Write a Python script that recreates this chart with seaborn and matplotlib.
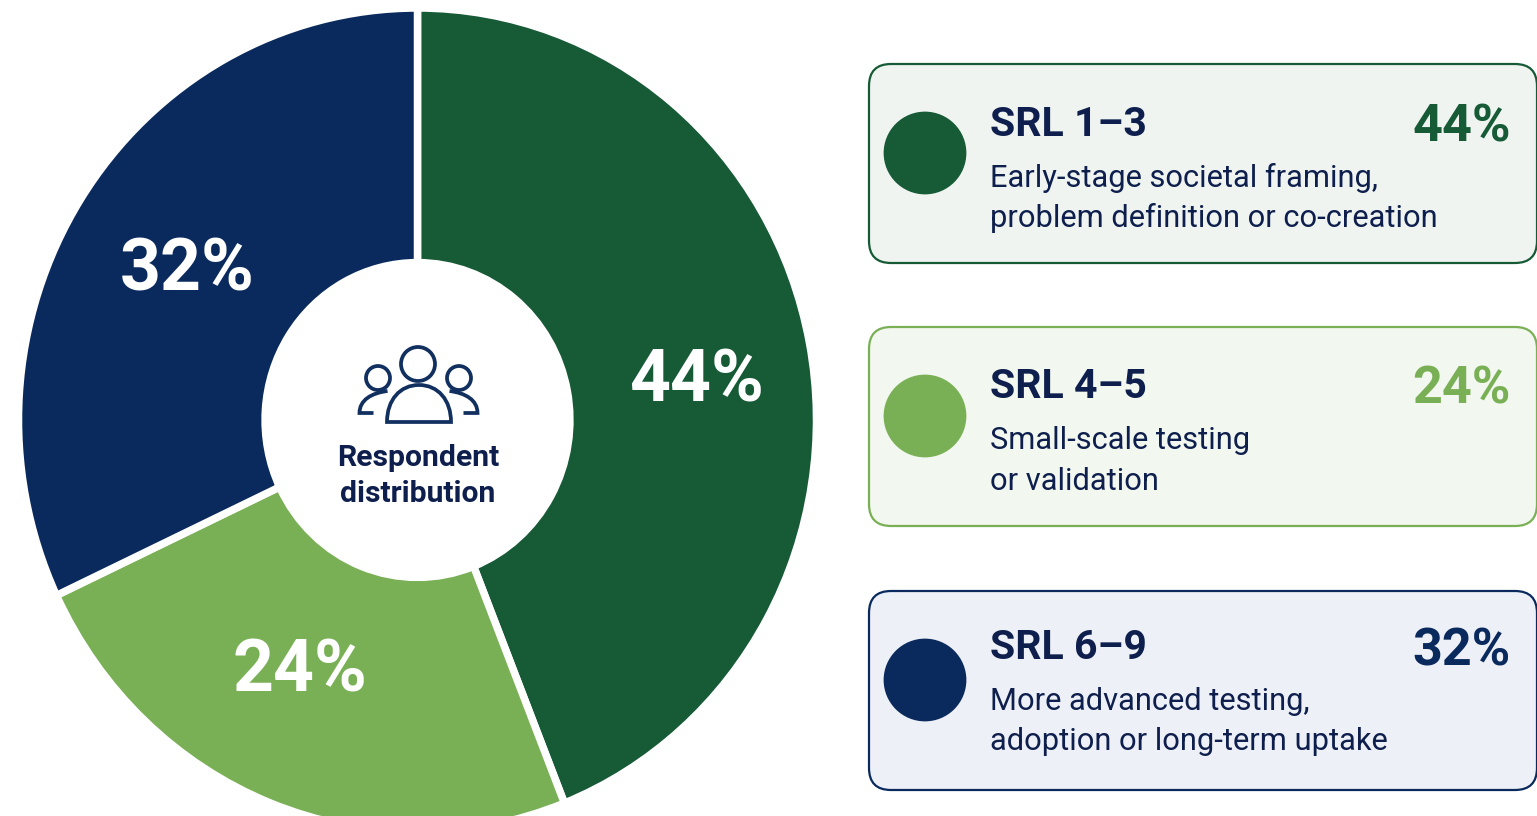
import matplotlib.pyplot as plt
import pandas as pd
import seaborn as sns
from matplotlib.patches import Circle, FancyBboxPatch, PathPatch
from matplotlib.path import Path

levels = ['SRL 1–3', 'SRL 4–5', 'SRL 6–9']
shares = [44, 24, 32]
share_labels = ['44%', '24%', '32%']
line_one = ['Early-stage societal framing,', 'Small-scale testing', 'More advanced testing,']
line_two = ['problem definition or co-creation', 'or validation', 'adoption or long-term uptake']
colors = ['#165A36', '#7AB055', '#0A2A5E']
card_fills = ['#EFF4F1', '#F2F7EF', '#EDF0F6']
center_lines = ['Respondent', 'distribution']

INK = '#0E1F4D'
W, H = 1537, 816

sns.set_theme(style='white')
plt.rcParams['font.family'] = ['Roboto', 'DejaVu Sans']

fig = plt.figure(figsize=(W / 100, H / 100), dpi=100, facecolor='white')

# Donut is slightly taller than wide and runs off the bottom edge
ax_pie = fig.add_axes([18.5 / W, -16 / H, 798 / W, 824 / H])
ax_pie.pie(shares, colors=colors, startangle=90, counterclock=False, radius=1,
           wedgeprops={'width': 0.618, 'edgecolor': 'white', 'linewidth': 5.4})
ax_pie.set_aspect('auto')
ax_pie.set_xlim(-1, 1)
ax_pie.set_ylim(-1, 1)

# Overlay in pixel coordinates for the cards, labels and icon
ax = fig.add_axes([0, 0, 1, 1], facecolor='none')

card_tops = [64, 327, 591]
head_base = [136, 398, 659]
pct_base = [141, 403, 665]
one_base = [187, 449, 710]
two_base = [227, 490, 750]
for i, level in enumerate(levels):
    top = card_tops[i]
    ax.add_patch(FancyBboxPatch((869 + 22, top + 22), 668 - 44, 199 - 44,
                                boxstyle='round,pad=22,rounding_size=22',
                                facecolor=card_fills[i], edgecolor=colors[i], linewidth=1.6))
    ax.text(990, head_base[i], level, fontsize=29.5, fontweight='bold', color=INK, va='baseline', ha='left')
    ax.text(1511, pct_base[i], share_labels[i], fontsize=37.5, fontweight='bold', color=colors[i],
            va='baseline', ha='right')
    ax.text(990, one_base[i], line_one[i], fontsize=22.2, color=INK, va='baseline', ha='left')
    ax.text(990, two_base[i], line_two[i], fontsize=22.2, color=INK, va='baseline', ha='left')

dots = pd.DataFrame({'x': [925, 925, 925], 'y': [t + 89 for t in card_tops], 'level': levels})
sns.scatterplot(data=dots, x='x', y='y', hue='level', palette=colors, s=3550, linewidth=0,
                legend=False, ax=ax, zorder=3)

# Share labels on the donut
label_spots = [(696, 382), (300, 672), (187, 271)]
for (x, y), text in zip(label_spots, share_labels):
    ax.text(x, y, text, fontsize=51.5, fontweight='bold', color='white', ha='center', va='center')

# People icon in the hole
icon = {'fill': False, 'edgecolor': '#12305F', 'linewidth': 2.7, 'zorder': 4}
ax.add_patch(Circle((418, 364), 17, **icon))
ax.add_patch(Circle((378, 378), 12, **icon))
ax.add_patch(Circle((459, 378), 12, **icon))
dome = Path([(387, 422), (387, 400), (400, 385), (419, 385), (438, 385), (451, 400), (451, 422), (387, 422)],
            [Path.MOVETO, Path.CURVE4, Path.CURVE4, Path.CURVE4, Path.CURVE4, Path.CURVE4, Path.CURVE4, Path.CLOSEPOLY])
ax.add_patch(PathPatch(dome, **icon))
for side in (1, -1):
    cx = 418.5
    p = lambda x: cx - side * x
    arm = Path([(p(31), 391), (p(47), 393), (p(59), 400), (p(59), 413), (p(45), 413)],
               [Path.MOVETO, Path.CURVE4, Path.CURVE4, Path.CURVE4, Path.LINETO])
    ax.add_patch(PathPatch(arm, **icon))

ax.text(418, 458, center_lines[0], fontsize=21.7, fontweight='bold', color=INK, ha='center', va='center')
ax.text(418, 494, center_lines[1], fontsize=21.7, fontweight='bold', color=INK, ha='center', va='center')

ax.set_xlim(0, W)
ax.set_ylim(H, 0)
ax.set_xlabel('')
ax.set_ylabel('')
ax.set_xticks([])
ax.set_yticks([])
sns.despine(ax=ax, left=True, bottom=True)

fig.savefig('out.png', dpi=100)
